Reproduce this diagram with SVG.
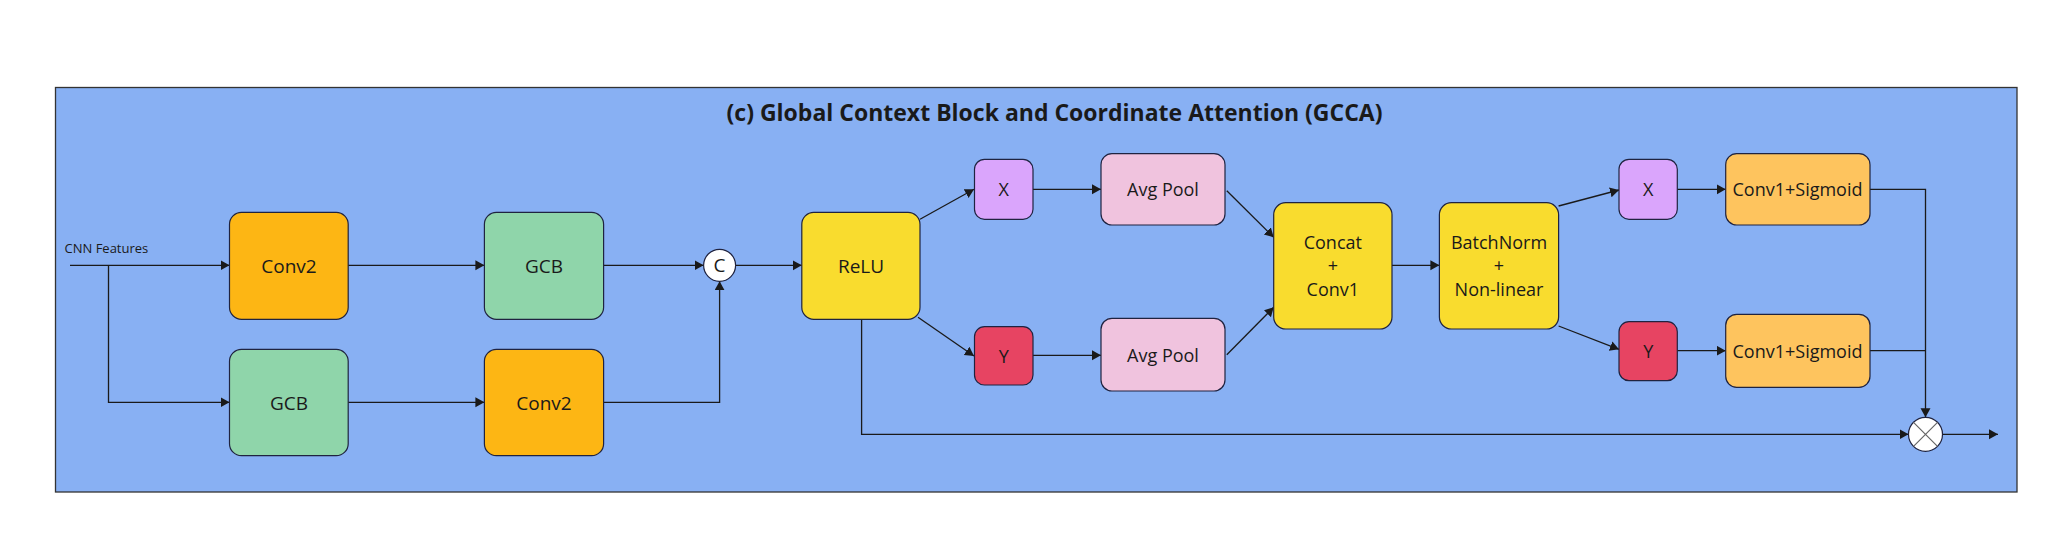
<svg xmlns="http://www.w3.org/2000/svg" width="2072" height="546" viewBox="0 0 2072 546">
<style>
.t{font-family:"Open Sans","Noto Sans","Liberation Sans",sans-serif;font-size:18px;fill:#1a1a1a;text-anchor:middle}
.big{font-size:19px}
.b{stroke:#1f2340;stroke-width:1.2}
.c{fill:none;stroke:#1a1a1a;stroke-width:1.3}
.orange{fill:#FDB614}.green{fill:#8FD5AA}.yellow{fill:#F9DC2E}.purple{fill:#DAA5FC}.red{fill:#E74462}.pink{fill:#F0C3DE}.lor{fill:#FEC45E}
</style>
<defs>
<marker id="ar" markerUnits="userSpaceOnUse" markerWidth="11" markerHeight="11" refX="9" refY="5" orient="auto">
<path d="M0,0 L9,5 L0,10 Z" fill="#1a1a1a"/>
</marker>
</defs>
<rect x="0" y="0" width="2072" height="546" fill="#ffffff"/>
<g id="frame">
<rect x="55.5" y="87.5" width="1961.5" height="404.5" fill="#88B0F3" stroke="#333333" stroke-width="1.3"/>
<text x="1054.5" y="121" style="font-family:'Open Sans','Noto Sans','Liberation Sans',sans-serif;font-size:23px;font-weight:bold;fill:#1a1a1a;text-anchor:middle">(c) Global Context Block and Coordinate Attention (GCCA)</text>
</g>
<g id="input-label">
<text x="64.5" y="253" style="font-family:'Open Sans','Noto Sans','Liberation Sans',sans-serif;font-size:13px;fill:#1a1a1a">CNN Features</text>
</g>
<g id="connectors">
<path class="c" d="M70,265.3 H229.5" marker-end="url(#ar)"/>
<path class="c" d="M108.5,265.3 V402.3 H229.5" marker-end="url(#ar)"/>
<path class="c" d="M348.2,265.3 H484.4" marker-end="url(#ar)"/>
<path class="c" d="M603.6,265.3 H703.6" marker-end="url(#ar)"/>
<path class="c" d="M348.2,402.3 H484.4" marker-end="url(#ar)"/>
<path class="c" d="M603.6,402.3 H719.6 V281.3" marker-end="url(#ar)"/>
<path class="c" d="M735.6,265.3 H801.8" marker-end="url(#ar)"/>
<path class="c" d="M920,219.3 L974,189.3" marker-end="url(#ar)"/>
<path class="c" d="M918,317.3 L974,356" marker-end="url(#ar)"/>
<path class="c" d="M1033,189.3 H1101" marker-end="url(#ar)"/>
<path class="c" d="M1033,355.3 H1101" marker-end="url(#ar)"/>
<path class="c" d="M1226.8,190.7 L1273.7,237.3" marker-end="url(#ar)"/>
<path class="c" d="M1226.8,354.7 L1273.7,307.3" marker-end="url(#ar)"/>
<path class="c" d="M1392,265.3 H1439.4" marker-end="url(#ar)"/>
<path class="c" d="M1558.6,206 L1619,190" marker-end="url(#ar)"/>
<path class="c" d="M1558.6,326 L1619,349.3" marker-end="url(#ar)"/>
<path class="c" d="M1677.3,189.3 H1725.7" marker-end="url(#ar)"/>
<path class="c" d="M1677.3,350.7 H1725.7" marker-end="url(#ar)"/>
<path class="c" d="M1870,189.3 H1925.5 V417.3" marker-end="url(#ar)"/>
<path class="c" d="M1870,350.7 H1925.5"/>
<path class="c" d="M861.6,319.3 V434.3 H1908.5" marker-end="url(#ar)"/>
<path class="c" d="M1942.5,434.3 H1998" marker-end="url(#ar)"/>
</g>
<g id="conv2-top">
<rect class="b orange" x="229.5" y="212.3" width="118.7" height="107" rx="12"/>
<text class="t big" x="289" y="272.5">Conv2</text>
</g>
<g id="gcb-top">
<rect class="b green" x="484.4" y="212.3" width="119.2" height="107" rx="12"/>
<text class="t big" x="544" y="272.5">GCB</text>
</g>
<g id="gcb-bottom">
<rect class="b green" x="229.5" y="349.3" width="118.7" height="106.4" rx="12"/>
<text class="t big" x="289" y="409.5">GCB</text>
</g>
<g id="conv2-bottom">
<rect class="b orange" x="484.4" y="349.3" width="119.2" height="106.4" rx="12"/>
<text class="t big" x="544" y="409.5">Conv2</text>
</g>
<g id="concat-c">
<circle cx="719.6" cy="265.3" r="16" fill="#ffffff" stroke="#1f2340" stroke-width="1.2"/>
<text class="t big" x="719.6" y="272">C</text>
</g>
<g id="relu">
<rect class="b yellow" x="801.8" y="212.3" width="118.2" height="107" rx="12"/>
<text class="t big" x="861" y="272.5">ReLU</text>
</g>
<g id="x1">
<rect class="b purple" x="974.5" y="159.3" width="58.5" height="60" rx="10"/>
<text class="t" x="1003.7" y="196">X</text>
</g>
<g id="y1">
<rect class="b red" x="974.5" y="326.7" width="58.5" height="58.3" rx="10"/>
<text class="t" x="1003.7" y="362.5">Y</text>
</g>
<g id="avgpool-top">
<rect class="b pink" x="1101" y="153.7" width="124" height="71.3" rx="11"/>
<text class="t" x="1163" y="196">Avg Pool</text>
</g>
<g id="avgpool-bottom">
<rect class="b pink" x="1101" y="318.3" width="124" height="72.7" rx="11"/>
<text class="t" x="1163" y="361.5">Avg Pool</text>
</g>
<g id="concat-conv1">
<rect class="b yellow" x="1273.7" y="202.7" width="118.3" height="126.3" rx="12"/>
<text class="t" x="1332.8" y="248.5">Concat</text>
<text class="t" x="1332.8" y="272">+</text>
<text class="t" x="1332.8" y="295.5">Conv1</text>
</g>
<g id="batchnorm">
<rect class="b yellow" x="1439.4" y="202.7" width="119.2" height="126.3" rx="12"/>
<text class="t" x="1499" y="248.5">BatchNorm</text>
<text class="t" x="1499" y="272">+</text>
<text class="t" x="1499" y="295.5">Non-linear</text>
</g>
<g id="x2">
<rect class="b purple" x="1619" y="159.3" width="58.3" height="60" rx="10"/>
<text class="t" x="1648.2" y="196">X</text>
</g>
<g id="y2">
<rect class="b red" x="1619" y="321.7" width="58.3" height="59" rx="10"/>
<text class="t" x="1648.2" y="357.5">Y</text>
</g>
<g id="conv1sig-top">
<rect class="b lor" x="1725.7" y="153.7" width="144.3" height="71.3" rx="11"/>
<text class="t" x="1797.5" y="196">Conv1+Sigmoid</text>
</g>
<g id="conv1sig-bottom">
<rect class="b lor" x="1725.7" y="314.3" width="144.3" height="73" rx="11"/>
<text class="t" x="1797.5" y="357.5">Conv1+Sigmoid</text>
</g>
<g id="multiply">
<circle cx="1925.5" cy="434.3" r="17" fill="#ffffff" stroke="#1f2340" stroke-width="1.2"/>
<path d="M1913.5,422.3 L1937.5,446.3 M1937.5,422.3 L1913.5,446.3" stroke="#666666" stroke-width="1.2"/>
</g>
</svg>
